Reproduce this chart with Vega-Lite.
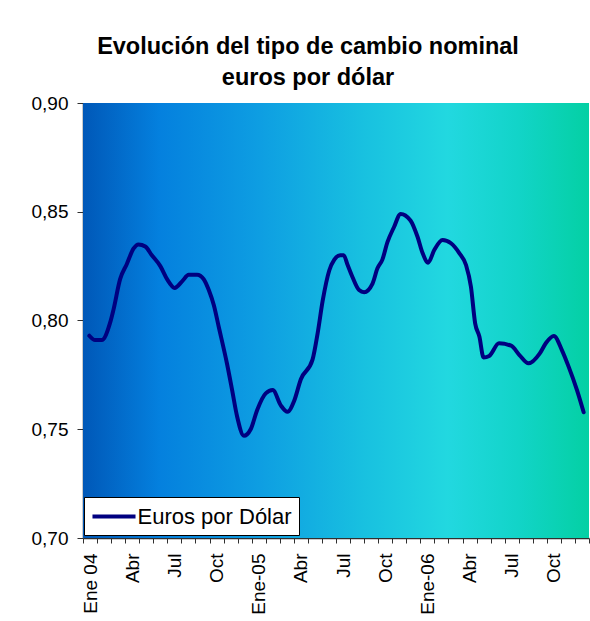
{
  "$schema": "https://vega.github.io/schema/vega-lite/v6.json",
  "width": 506,
  "height": 435,
  "autosize": {"type": "none"},
  "padding": {"left": 83, "top": 103, "right": 1, "bottom": 83},
  "background": "white",
  "title": {
    "text": ["Evolución del tipo de cambio nominal", "euros por dólar"],
    "font": "Liberation Sans",
    "fontSize": 23.5,
    "fontWeight": "bold",
    "color": "black",
    "anchor": "middle",
    "dx": -28,
    "lineHeight": 31,
    "offset": 5
  },
  "datasets": {
    "serie": [
      {"m": 0.45, "v": 0.793, "serie": "Euros por Dólar"},
      {"m": 0.86, "v": 0.791, "serie": "Euros por Dólar"},
      {"m": 1.33, "v": 0.791, "serie": "Euros por Dólar"},
      {"m": 1.93, "v": 0.799, "serie": "Euros por Dólar"},
      {"m": 2.17, "v": 0.805, "serie": "Euros por Dólar"},
      {"m": 2.64, "v": 0.819, "serie": "Euros por Dólar"},
      {"m": 3.12, "v": 0.826, "serie": "Euros por Dólar"},
      {"m": 3.59, "v": 0.833, "serie": "Euros por Dólar"},
      {"m": 3.95, "v": 0.835, "serie": "Euros por Dólar"},
      {"m": 4.43, "v": 0.834, "serie": "Euros por Dólar"},
      {"m": 4.9, "v": 0.830, "serie": "Euros por Dólar"},
      {"m": 5.5, "v": 0.825, "serie": "Euros por Dólar"},
      {"m": 5.98, "v": 0.819, "serie": "Euros por Dólar"},
      {"m": 6.52, "v": 0.815, "serie": "Euros por Dólar"},
      {"m": 7.05, "v": 0.818, "serie": "Euros por Dólar"},
      {"m": 7.52, "v": 0.821, "serie": "Euros por Dólar"},
      {"m": 8.12, "v": 0.821, "serie": "Euros por Dólar"},
      {"m": 8.59, "v": 0.819, "serie": "Euros por Dólar"},
      {"m": 8.95, "v": 0.814, "serie": "Euros por Dólar"},
      {"m": 9.31, "v": 0.807, "serie": "Euros por Dólar"},
      {"m": 9.66, "v": 0.797, "serie": "Euros por Dólar"},
      {"m": 10.25, "v": 0.780, "serie": "Euros por Dólar"},
      {"m": 10.61, "v": 0.768, "serie": "Euros por Dólar"},
      {"m": 10.96, "v": 0.756, "serie": "Euros por Dólar"},
      {"m": 11.45, "v": 0.747, "serie": "Euros por Dólar"},
      {"m": 11.93, "v": 0.750, "serie": "Euros por Dólar"},
      {"m": 12.4, "v": 0.759, "serie": "Euros por Dólar"},
      {"m": 13.0, "v": 0.7665, "serie": "Euros por Dólar"},
      {"m": 13.5, "v": 0.768, "serie": "Euros por Dólar"},
      {"m": 14.07, "v": 0.761, "serie": "Euros por Dólar"},
      {"m": 14.55, "v": 0.758, "serie": "Euros por Dólar"},
      {"m": 15.02, "v": 0.763, "serie": "Euros por Dólar"},
      {"m": 15.5, "v": 0.773, "serie": "Euros por Dólar"},
      {"m": 16.33, "v": 0.782, "serie": "Euros por Dólar"},
      {"m": 16.69, "v": 0.794, "serie": "Euros por Dólar"},
      {"m": 17.05, "v": 0.809, "serie": "Euros por Dólar"},
      {"m": 17.52, "v": 0.823, "serie": "Euros por Dólar"},
      {"m": 17.88, "v": 0.828, "serie": "Euros por Dólar"},
      {"m": 18.3, "v": 0.830, "serie": "Euros por Dólar"},
      {"m": 18.55, "v": 0.830, "serie": "Euros por Dólar"},
      {"m": 18.8, "v": 0.826, "serie": "Euros por Dólar"},
      {"m": 19.17, "v": 0.820, "serie": "Euros por Dólar"},
      {"m": 19.64, "v": 0.814, "serie": "Euros por Dólar"},
      {"m": 20.0, "v": 0.813, "serie": "Euros por Dólar"},
      {"m": 20.6, "v": 0.817, "serie": "Euros por Dólar"},
      {"m": 20.95, "v": 0.824, "serie": "Euros por Dólar"},
      {"m": 21.3, "v": 0.828, "serie": "Euros por Dólar"},
      {"m": 21.66, "v": 0.836, "serie": "Euros por Dólar"},
      {"m": 22.13, "v": 0.843, "serie": "Euros por Dólar"},
      {"m": 22.6, "v": 0.849, "serie": "Euros por Dólar"},
      {"m": 23.3, "v": 0.846, "serie": "Euros por Dólar"},
      {"m": 23.8, "v": 0.8385, "serie": "Euros por Dólar"},
      {"m": 24.16, "v": 0.831, "serie": "Euros por Dólar"},
      {"m": 24.56, "v": 0.8266, "serie": "Euros por Dólar"},
      {"m": 24.99, "v": 0.8324, "serie": "Euros por Dólar"},
      {"m": 25.58, "v": 0.837, "serie": "Euros por Dólar"},
      {"m": 26.18, "v": 0.8355, "serie": "Euros por Dólar"},
      {"m": 26.77, "v": 0.831, "serie": "Euros por Dólar"},
      {"m": 27.25, "v": 0.8255, "serie": "Euros por Dólar"},
      {"m": 27.6, "v": 0.8155, "serie": "Euros por Dólar"},
      {"m": 27.9, "v": 0.7987, "serie": "Euros por Dólar"},
      {"m": 28.2, "v": 0.7926, "serie": "Euros por Dólar"},
      {"m": 28.5, "v": 0.783, "serie": "Euros por Dólar"},
      {"m": 28.9, "v": 0.7837, "serie": "Euros por Dólar"},
      {"m": 29.6, "v": 0.7895, "serie": "Euros por Dólar"},
      {"m": 30.46, "v": 0.7884, "serie": "Euros por Dólar"},
      {"m": 31.05, "v": 0.7841, "serie": "Euros por Dólar"},
      {"m": 31.7, "v": 0.7803, "serie": "Euros por Dólar"},
      {"m": 32.5, "v": 0.7849, "serie": "Euros por Dólar"},
      {"m": 32.95, "v": 0.7898, "serie": "Euros por Dólar"},
      {"m": 33.5, "v": 0.7929, "serie": "Euros por Dólar"},
      {"m": 34.07, "v": 0.7864, "serie": "Euros por Dólar"},
      {"m": 34.55, "v": 0.7788, "serie": "Euros por Dólar"},
      {"m": 35.14, "v": 0.7681, "serie": "Euros por Dólar"},
      {"m": 35.62, "v": 0.7578, "serie": "Euros por Dólar"}
    ],
    "fondo": [{"x0": 0, "x1": 36, "y0": 0.7, "y1": 0.9}],
    "rejilla": [{"g": 0.75}, {"g": 0.80}, {"g": 0.85}],
    "bordeSup": [{"g": 0.9}],
    "bordeDer": [{"mx": 36}]
  },
  "layer": [
    {
      "data": {"name": "fondo"},
      "mark": {
        "type": "rect",
        "color": {
          "gradient": "linear",
          "stops": [
            {"offset": 0, "color": "#0058B8"},
            {"offset": 0.15, "color": "#0480DE"},
            {"offset": 0.35, "color": "#0E9EE2"},
            {"offset": 0.55, "color": "#18C0E0"},
            {"offset": 0.72, "color": "#22D8E0"},
            {"offset": 0.86, "color": "#12D4C8"},
            {"offset": 1, "color": "#04D0A4"}
          ]
        }
      },
      "encoding": {
        "x": {"field": "x0", "type": "quantitative"},
        "x2": {"field": "x1"},
        "y": {"field": "y0", "type": "quantitative"},
        "y2": {"field": "y1"}
      }
    },
    {
      "data": {"name": "rejilla"},
      "mark": {"type": "rule", "color": "#111111", "strokeWidth": 1},
      "encoding": {
        "x": {"datum": 0, "type": "quantitative"},
        "x2": {"datum": 36},
        "y": {"field": "g", "type": "quantitative"}
      }
    },
    {
      "data": {"name": "bordeSup"},
      "mark": {"type": "rule", "color": "#9a9a9a", "strokeWidth": 2},
      "encoding": {
        "x": {"datum": 0, "type": "quantitative"},
        "x2": {"datum": 36},
        "y": {"field": "g", "type": "quantitative"}
      }
    },
    {
      "data": {"name": "bordeDer"},
      "mark": {"type": "rule", "color": "#808080", "strokeWidth": 2},
      "encoding": {
        "x": {"field": "mx", "type": "quantitative"},
        "y": {"datum": 0.7, "type": "quantitative"},
        "y2": {"datum": 0.9}
      }
    },
    {
      "data": {"name": "serie"},
      "mark": {"type": "line", "strokeWidth": 4, "interpolate": "monotone", "strokeCap": "round", "strokeJoin": "round"},
      "encoding": {
        "color": {
          "field": "serie",
          "type": "nominal",
          "scale": {"range": ["#000080"]},
          "legend": {
            "title": null,
            "orient": "none",
            "legendX": 1,
            "legendY": 394,
            "symbolType": "M-2.05,0H2.05",
            "symbolSize": 441,
            "symbolOffset": 10.5,
            "symbolStrokeWidth": 4,
            "symbolStrokeColor": "#000080",
            "symbolFillColor": "transparent",
            "labelFont": "Liberation Sans",
            "labelFontSize": 22,
            "labelColor": "black",
            "labelOffset": 11,
            "padding": 7,
            "fillColor": "white",
            "strokeColor": "black"
          }
        }
      }
    }
  ],
  "encoding": {
    "x": {
      "field": "m",
      "type": "quantitative",
      "scale": {"domain": [0, 36], "nice": false, "zero": false},
      "axis": {
        "title": null,
        "values": [0,1,2,3,4,5,6,7,8,9,10,11,12,13,14,15,16,17,18,19,20,21,22,23,24,25,26,27,28,29,30,31,32,33,34,35,36],
        "labelExpr": "datum.value == 0 ? 'Ene 04' : datum.value == 12 ? 'Ene-05' : datum.value == 24 ? 'Ene-06' : datum.value == 36 ? '' : datum.value % 12 == 3 ? 'Abr' : datum.value % 12 == 6 ? 'Jul' : datum.value % 12 == 9 ? 'Oct' : ''",
        "labelAngle": -90,
        "labelAlign": "right",
        "labelBaseline": "middle",
        "labelOffset": 7,
        "labelPadding": 10,
        "labelFont": "Liberation Sans",
        "labelFontSize": 19,
        "labelColor": "black",
        "labelOverlap": false,
        "labelBound": false,
        "labelFlush": false,
        "grid": false,
        "tickSize": 5,
        "tickColor": "#303030",
        "domainColor": "#303030",
        "domainWidth": 1.5
      }
    },
    "y": {
      "field": "v",
      "type": "quantitative",
      "scale": {"domain": [0.7, 0.9], "nice": false, "zero": false},
      "axis": {
        "title": null,
        "values": [0.7, 0.75, 0.8, 0.85, 0.9],
        "labelExpr": "replace(format(datum.value, '.2f'), '.', ',')",
        "labelFont": "Liberation Sans",
        "labelFontSize": 19,
        "labelColor": "black",
        "labelPadding": 9,
        "tickSize": 6,
        "tickColor": "#303030",
        "domainColor": "#303030",
        "domainWidth": 1.5,
        "grid": false
      }
    }
  },
  "config": {
    "view": {
      "stroke": null
    }
  }
}
